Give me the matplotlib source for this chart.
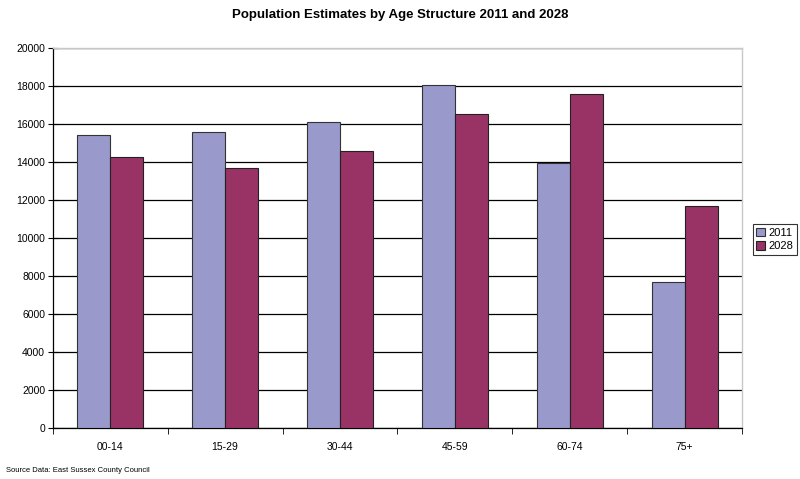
import matplotlib
matplotlib.use("Agg")
import matplotlib.pyplot as plt
import numpy as np

categories = ["00-14", "15-29", "30-44", "45-59", "60-74", "75+"]
values_2011 = [15400, 15600, 16100, 18050, 13950, 7700]
values_2028 = [14250, 13700, 14600, 16500, 17600, 11700]
series_names = ["2011", "2028"]
yticks = list(range(0, 20001, 2000))

plt.rcParams['font.family'] = ['Liberation Sans', 'DejaVu Sans']

fig = plt.figure(figsize=(8, 4.79), dpi=100)
ax = fig.add_axes([0.066, 0.1065, 0.8615, 0.7933])

x = np.arange(len(categories))
w = 0.287
ax.bar(x - w/2, values_2011, width=w, color="#9999CC", edgecolor="#333333", linewidth=0.8, label=series_names[0], zorder=3)
ax.bar(x + w/2, values_2028, width=w, color="#993366", edgecolor="#222222", linewidth=0.8, label=series_names[1], zorder=3)

ax.set_xlim(-0.5, len(categories) - 0.5)
ax.set_ylim(0, 20000)
ax.set_yticks(yticks)
ax.set_yticklabels([str(v) for v in yticks], fontsize=7.5)
ax.yaxis.grid(True, color="black", linewidth=0.9, zorder=0)
ax.set_axisbelow(True)

ax.set_xticks(x)
ax.set_xticklabels(categories, fontsize=7.5)
ax.tick_params(axis='x', which='major', length=0, pad=10)
ax.set_xticks(np.arange(-0.5, len(categories), 1.0), minor=True)
ax.tick_params(axis='x', which='minor', length=4, direction='out', color='black')
ax.tick_params(axis='y', length=7, direction='inout', color='black', pad=2)

for s in ['top', 'right']:
    ax.spines[s].set_color('#c8c8c8')
    ax.spines[s].set_linewidth(1.0)
for s in ['left', 'bottom']:
    ax.spines[s].set_color('black')
    ax.spines[s].set_linewidth(0.9)

fig.text(0.5, 0.968, "Population Estimates by Age Structure 2011 and 2028", ha='center', va='center', fontsize=9.5, fontweight='bold')
fig.text(0.008, 0.018, "Source Data: East Sussex County Council", ha='left', va='center', fontsize=5.5)

leg = fig.legend(loc='center left', bbox_to_anchor=(0.941, 0.5), fontsize=8, frameon=True, fancybox=False,
                 edgecolor='black', handlelength=0.8, handleheight=0.8, handletextpad=0.3,
                 borderpad=0.3, labelspacing=0.3, borderaxespad=0)
leg.get_frame().set_linewidth(0.8)

fig.savefig("out.png", dpi=100)
